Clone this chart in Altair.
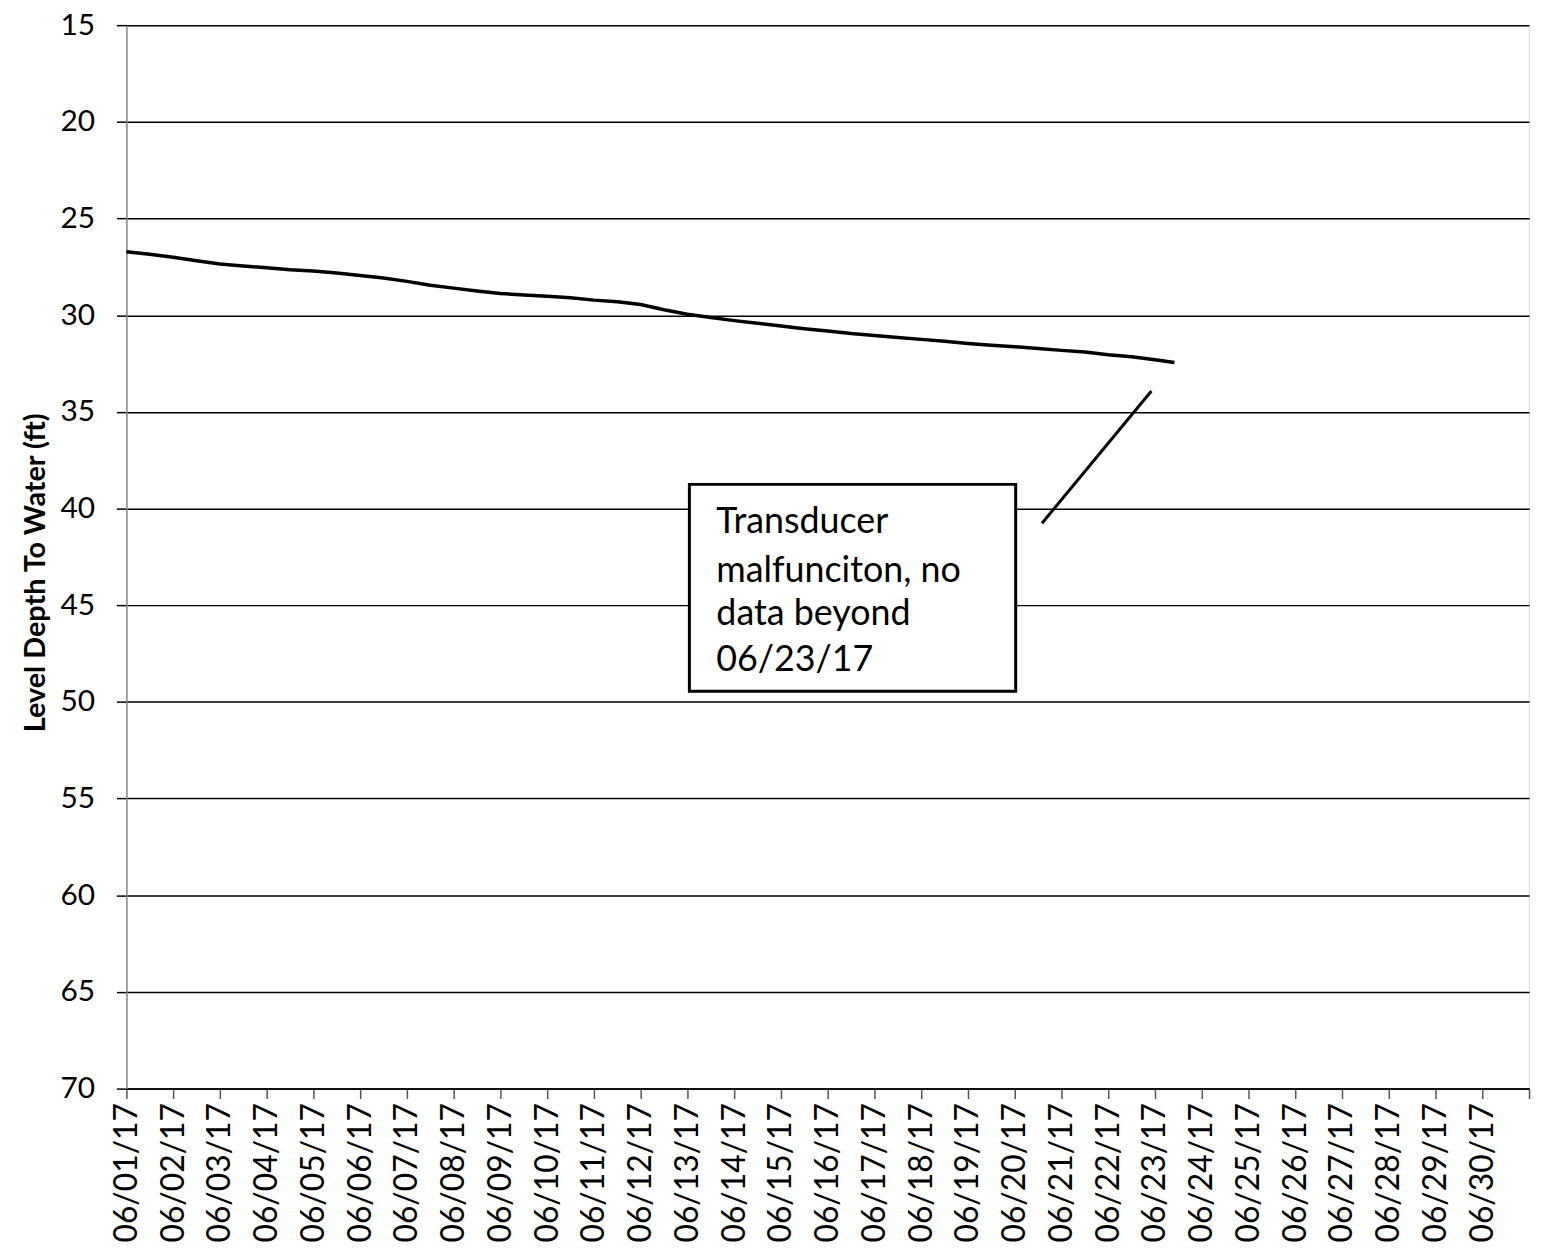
import altair as alt
import pandas as pd

# Hourly offsets from 06/01/17 00:00 and depth to water readings (ft)
hours = [0, 12, 24, 36, 48, 60, 72, 84, 96, 108, 120, 132, 144, 156, 168, 180,
         192, 204, 216, 228, 240, 252, 264, 276, 288, 300, 312, 324, 336, 348,
         360, 372, 384, 396, 408, 420, 432, 444, 456, 468, 480, 492, 504, 516,
         528, 538]
depth = [26.72, 26.85, 27.00, 27.18, 27.35, 27.45, 27.55, 27.65, 27.72, 27.82,
         27.95, 28.08, 28.25, 28.45, 28.60, 28.75, 28.88, 28.95, 29.02, 29.10,
         29.22, 29.30, 29.45, 29.72, 29.95, 30.12, 30.28, 30.42, 30.56, 30.70,
         30.82, 30.95, 31.05, 31.15, 31.25, 31.35, 31.46, 31.55, 31.63, 31.72,
         31.82, 31.90, 32.05, 32.15, 32.30, 32.45]

# annotation
note_lines = ["Transducer", "malfunciton, no", "data beyond", "06/23/17"]
note_line_y = [41.27, 43.79, 46.0, 48.42]
note_text_x = ["2017-06-13T14:50:00"]
box_x = ["2017-06-13T01:00:00", "2017-06-20T00:30:00"]
box_y = [38.75, 49.45]
leader_x = ["2017-06-20T14:00:00", "2017-06-22T22:10:00"]
leader_y = [40.76, 33.92]

y_ticks = list(range(15, 75, 5))

start = pd.Timestamp("2017-06-01T00:00:00")
df = pd.DataFrame({"time": [start + pd.Timedelta(hours=h) for h in hours], "depth": depth})

FONT = "Lato"

xscale = alt.Scale(domain=[alt.DateTime(year=2017, month=6, date=1),
                           alt.DateTime(year=2017, month=7, date=1)])
yscale = alt.Scale(domain=[15, 70], reverse=True, nice=False, zero=False)

tick_dates = [alt.DateTime(year=2017, month=6, date=d) for d in range(1, 31)] + \
             [alt.DateTime(year=2017, month=7, date=1)]

x_axis = alt.Axis(values=tick_dates, format="%m/%d/%y", labelAngle=-90,
                  labelExpr="month(datum.value) == 5 ? datum.label : ''",
                  labelFontSize=32, labelFont=FONT, labelColor="black",
                  labelPadding=4, tickSize=10, tickColor="#555", tickWidth=1.5,
                  domainColor="black", domainWidth=1.5, grid=False, title=None,
                  labelOverlap=False, labelBound=False, labelFlush=False)
y_axis = alt.Axis(values=y_ticks, grid=True, gridColor="black", gridWidth=1.5,
                  domainColor="#888", domainWidth=1.5, tickColor="black",
                  tickSize=10, tickWidth=1.5, labelFontSize=30, labelFont=FONT,
                  labelColor="black", labelPadding=22,
                  title="Level Depth To Water (ft)", titleFontSize=29,
                  titleFont=FONT, titleFontWeight="bold", titleColor="black",
                  titlePadding=10, titleY=550)

line = alt.Chart(df).mark_line(color="black", strokeWidth=3.5).encode(
    x=alt.X("time:T", scale=xscale, axis=x_axis),
    y=alt.Y("depth:Q", scale=yscale, axis=y_axis),
)

box_df = pd.DataFrame({"x": [pd.Timestamp(box_x[0])], "x2": [pd.Timestamp(box_x[1])],
                       "y": [box_y[0]], "y2": [box_y[1]]})
box = alt.Chart(box_df).mark_rect(fill="white", stroke="black", strokeWidth=3).encode(
    x="x:T", x2="x2:T", y="y:Q", y2="y2:Q")

leader_df = pd.DataFrame({"x": [pd.Timestamp(leader_x[0])], "x2": [pd.Timestamp(leader_x[1])],
                          "y": [leader_y[0]], "y2": [leader_y[1]]})
leader = alt.Chart(leader_df).mark_rule(color="black", strokeWidth=3).encode(
    x="x:T", x2="x2:T", y="y:Q", y2="y2:Q")

text_df = pd.DataFrame({"x": [pd.Timestamp(note_text_x[0])] * len(note_lines),
                        "y": note_line_y, "t": note_lines})
text = alt.Chart(text_df).mark_text(align="left", baseline="alphabetic",
                                    fontSize=36, font=FONT, color="black").encode(
    x="x:T", y="y:Q", text="t:N")

chart = alt.layer(line, leader, box, text).properties(
    width=1410, height=1069,
    autosize=alt.AutoSizeParams(type="none"),
    padding={"left": 119, "top": 14, "right": 4, "bottom": 160},
).configure_view(stroke=None).configure(background="white")

chart.save("out.html", embed_options={"renderer": "svg", "actions": False})
